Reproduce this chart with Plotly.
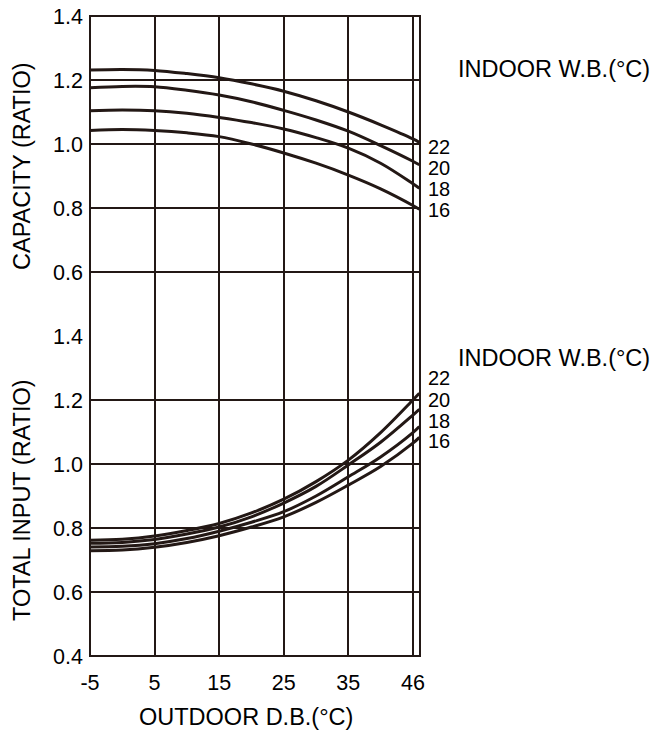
import plotly.graph_objects as go
from plotly.subplots import make_subplots

# ---- data ----
outdoor_db = [-5, 0, 5, 10, 15, 20, 25, 30, 35, 40, 45, 46]
indoor_wb = ["22", "20", "18", "16"]

capacity = {
    "22": [1.231, 1.233, 1.230, 1.220, 1.207, 1.188, 1.165, 1.135, 1.100, 1.060, 1.016, 1.005],
    "20": [1.176, 1.180, 1.179, 1.168, 1.153, 1.132, 1.105, 1.075, 1.040, 0.995, 0.946, 0.935],
    "18": [1.104, 1.106, 1.104, 1.096, 1.083, 1.067, 1.047, 1.020, 0.987, 0.940, 0.876, 0.862],
    "16": [1.042, 1.045, 1.042, 1.035, 1.023, 1.000, 0.972, 0.940, 0.903, 0.860, 0.808, 0.796],
}
total_input = {
    "22": [0.762, 0.765, 0.775, 0.792, 0.814, 0.847, 0.890, 0.945, 1.012, 1.098, 1.200, 1.221],
    "20": [0.752, 0.755, 0.764, 0.781, 0.803, 0.835, 0.878, 0.930, 0.997, 1.068, 1.153, 1.171],
    "18": [0.741, 0.743, 0.751, 0.767, 0.790, 0.818, 0.851, 0.900, 0.960, 1.022, 1.098, 1.117],
    "16": [0.729, 0.731, 0.740, 0.755, 0.776, 0.803, 0.835, 0.880, 0.934, 0.992, 1.065, 1.083],
}

x_tickvals = [-5, 5, 15, 25, 35, 45]
x_ticktext = ["-5", "5", "15", "25", "35", "46"]
cap_ticks = [0.6, 0.8, 1.0, 1.2, 1.4]
inp_ticks = [0.4, 0.6, 0.8, 1.0, 1.2, 1.4]

# ---- style ----
INK = "#231815"
FONT = "Liberation Sans, Arial, sans-serif"
W, H = 654, 736
L, R, T, B = 90, 420, 16, 656  # plot area in pixels


def px(x):
    return (x - L) / (R - L)


def py(y):
    return (B - y) / (B - T)


fig = make_subplots(rows=2, cols=1, shared_xaxes=True, vertical_spacing=0)

for wb in indoor_wb:
    fig.add_trace(go.Scatter(x=outdoor_db, y=capacity[wb], mode="lines",
                             line=dict(color=INK, width=3, shape="spline"),
                             name=wb, showlegend=False, hoverinfo="skip"), row=1, col=1)
    fig.add_trace(go.Scatter(x=outdoor_db, y=total_input[wb], mode="lines",
                             line=dict(color=INK, width=3, shape="spline"),
                             name=wb, showlegend=False, hoverinfo="skip"), row=2, col=1)

xcommon = dict(range=[-5, 46.1], tickvals=x_tickvals, ticktext=x_ticktext,
               showgrid=True, gridcolor=INK, gridwidth=1.6, zeroline=False,
               showline=False, ticks="", fixedrange=True, automargin=False)
fig.update_xaxes(**xcommon, showticklabels=False, row=1, col=1)
fig.update_xaxes(**xcommon, showticklabels=True, ticklabelstandoff=11,
                 tickfont=dict(family=FONT, size=21.5, color="#000"), row=2, col=1)

ycommon = dict(range=[0.4, 1.4], showgrid=True, gridcolor=INK, gridwidth=1.6,
               zeroline=False, showline=False, ticks="", tickformat=".1f",
               tickfont=dict(family=FONT, size=21.5, color="#000"),
               ticklabelstandoff=6, fixedrange=True, automargin=False)
fig.update_yaxes(**ycommon, tickvals=cap_ticks, row=1, col=1)
fig.update_yaxes(**ycommon, tickvals=inp_ticks, row=2, col=1)

# border
fig.add_shape(type="rect", xref="paper", yref="paper", x0=0, y0=0, x1=1, y1=1,
              line=dict(color=INK, width=2))

ann = []
tf = dict(family=FONT, size=23.5, color="#000")
ann.append(dict(text="CAPACITY (RATIO)", x=px(22), y=py(166), textangle=-90, font=tf))
ann.append(dict(text="TOTAL INPUT (RATIO)", x=px(22), y=py(500), textangle=-90, font=tf))
ann.append(dict(text="OUTDOOR D.B.(°C)", x=px(246), y=py(717), font=tf))
ann.append(dict(text="INDOOR W.B.(°C)", x=px(456), y=py(69), xanchor="left", font=tf))
ann.append(dict(text="INDOOR W.B.(°C)", x=px(456), y=py(358), xanchor="left", font=tf))
lf = dict(family=FONT, size=20, color="#000")
for wb, yy in zip(indoor_wb, [147, 168, 189, 210]):
    ann.append(dict(text=wb, x=px(426), y=py(yy), xanchor="left", font=lf))
for wb, yy in zip(indoor_wb, [378, 400, 421, 441]):
    ann.append(dict(text=wb, x=px(426), y=py(yy), xanchor="left", font=lf))
for a in ann:
    a.update(xref="paper", yref="paper", showarrow=False)
    a.setdefault("xanchor", "center")
    a.setdefault("yanchor", "middle")

fig.update_layout(width=W, height=H, margin=dict(l=L, r=W - R, t=T, b=H - B, pad=0),
                  paper_bgcolor="white", plot_bgcolor="white",
                  annotations=ann, font=dict(family=FONT))

fig.write_html("out.html", config={"displayModeBar": False},
               post_script="document.body.style.margin='0';document.body.style.padding='0';"
                           "document.documentElement.style.overflow='hidden';")
